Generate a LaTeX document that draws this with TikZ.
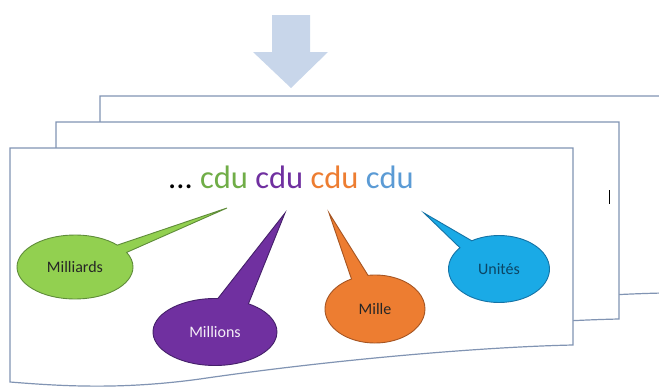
\documentclass[tikz,border=0pt]{standalone}
\usepackage{fontspec}
\setmainfont{Carlito}
\usetikzlibrary{shapes.callouts}

\definecolor{pageedge}{HTML}{8194B3}
\definecolor{arrowblue}{HTML}{C8D6EA}
\definecolor{cduGreen}{HTML}{70AD47}
\definecolor{cduPurple}{HTML}{7030A0}
\definecolor{cduOrange}{HTML}{ED7D31}
\definecolor{cduBlue}{HTML}{5B9BD5}
\definecolor{greenFill}{HTML}{92D050}
\definecolor{greenEdge}{HTML}{5F8C3A}
\definecolor{purpleFill}{HTML}{7030A0}
\definecolor{purpleEdge}{HTML}{45206A}
\definecolor{orangeFill}{HTML}{ED7D31}
\definecolor{orangeEdge}{HTML}{A65522}
\definecolor{blueFill}{HTML}{1AAAE6}
\definecolor{blueEdge}{HTML}{1573A6}

\tikzset{
  docpage/.style={draw=pageedge, line width=1.2pt, fill=white, line join=miter},
  bubble/.style={ellipse callout, inner sep=0pt, line width=0.9pt,
    font=\fontsize{16}{18}\selectfont},
}

% one sheet of the stacked document, top-left corner at (#1,#2)
\newcommand\docsheet[2]{%
  \path[docpage, shift={(#1,#2)}] (0,0) -- (563,0) -- (563,197)
    .. controls (470,199) and (320,212) .. (190,231)
    .. controls (110,242) and (50,238) .. (0,234) -- cycle;}

\begin{document}
\begin{tikzpicture}[x=1pt, y=-1pt]
  \useasboundingbox (0,0) rectangle (659,388);
  \clip (0,0) rectangle (659,388);

  % down arrow
  \fill[arrowblue] (272,15) -- (310,15) -- (310,52) -- (328,52) -- (291,88)
    -- (253,52) -- (272,52) -- cycle;

  % stacked sheets, back to front
  \docsheet{100}{96}
  \docsheet{56}{122}
  \docsheet{10}{148}

  % text cursor mark
  \draw[black, line width=0.9pt] (609,190) -- (609,204);

  % digit groups
  \node[anchor=base, font=\fontsize{32.5}{36}\selectfont] (digits) at (291,188)
    {...\ \textcolor{cduGreen}{cdu} \textcolor{cduPurple}{cdu}
     \textcolor{cduOrange}{cdu} \textcolor{cduBlue}{cdu}};

  % pointer tips
  \coordinate (tipG) at (227,208);
  \coordinate (tipP) at (285,213);
  \coordinate (tipO) at (329,213);
  \coordinate (tipB) at (424,213);

  % callouts
  \node[bubble, fill=greenFill, draw=greenEdge, text=black!85,
    minimum width=116, minimum height=64,
    callout absolute pointer={(tipG)}, callout pointer arc=16] (bil) at (75,267) {Milliards};
  \node[bubble, fill=purpleFill, draw=purpleEdge, text=white!92!purpleFill,
    minimum width=124, minimum height=67,
    callout absolute pointer={(tipP)}, callout pointer arc=30] (mil) at (215,332) {Millions};
  \node[bubble, fill=orangeFill, draw=orangeEdge, text=black!85,
    minimum width=100, minimum height=68,
    callout absolute pointer={(tipO)}, callout pointer arc=20] (tho) at (375,309) {Mille};
  \node[bubble, fill=blueFill, draw=blueEdge, text=blueEdge!60!black,
    minimum width=101, minimum height=67,
    callout absolute pointer={(tipB)}, callout pointer arc=18] (uni) at (499,269) {Unités};
\end{tikzpicture}
\end{document}
